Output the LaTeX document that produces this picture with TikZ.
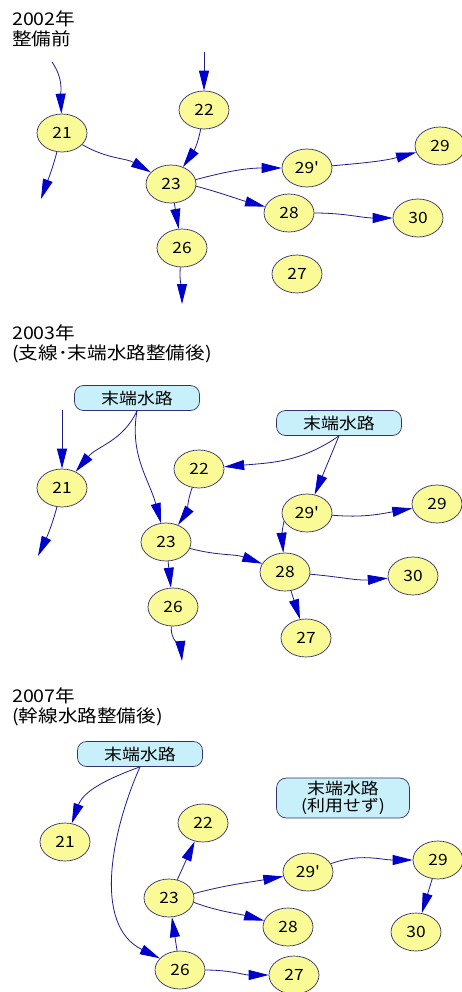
\documentclass[tikz,border=0pt]{standalone}
\usepackage{fontspec}
\setmainfont[FakeStretch=1.12,Ligatures=TeXOff]{Noto Sans CJK JP}
\usetikzlibrary{shapes.geometric,arrows.meta}
\definecolor{nodefill}{RGB}{250,250,150}
\definecolor{nodeline}{RGB}{50,50,110}
\definecolor{boxfill}{RGB}{200,240,250}
\definecolor{linecol}{RGB}{30,30,140}
\definecolor{headcol}{RGB}{0,0,205}
\begin{document}
\begin{tikzpicture}[x=1pt,y=1pt,
 pt/.style={ellipse,draw=nodeline,fill=nodefill,line width=0.7pt,minimum width=50pt,minimum height=38pt,inner sep=0pt,font=\fontsize{15.5}{15.5}\selectfont},
 src/.style={rectangle,rounded corners=9pt,draw=nodeline,fill=boxfill,line width=0.7pt,minimum width=125pt,minimum height=25pt,inner sep=0pt,font=\fontsize{16}{17}\selectfont,align=center},
 flow/.style={draw=linecol,line width=0.8pt,-{Triangle[length=20pt,width=10pt,color=headcol]}},
 ttl/.style={anchor=north west,inner sep=0pt,align=left,font=\fontsize{17.5}{20}\selectfont}]
\useasboundingbox[fill=white] (0,0) rectangle (462,-992);

% ---------- panel 1 ----------
\node[ttl] (t1) at (12,-11) {2002年\\整備前};
\node[pt] (a21) at (62,-133) {21};
\node[pt] (a22) at (204,-110) {22};
\node[pt] (a23) at (171,-184) {23};
\node[pt] (a26) at (182,-248) {26};
\node[pt] (a29p) at (307,-168) {29'};
\node[pt] (a29) at (440,-146) {29};
\node[pt] (a28) at (289,-213) {28};
\node[pt] (a30) at (418,-218) {30};
\node[pt] (a27) at (297,-274) {27};
\coordinate (a21in) at (52,-62);
\coordinate (a22in) at (204,-52);
\coordinate (a21out) at (41,-199);
\coordinate (a26out) at (182,-304);
\draw[flow] (a21in) to[out=-55,in=92] (a21);
\draw[flow] (a22in) -- (a22);
\draw[flow] (a21) to[out=-105,in=70] (a21out);
\draw[flow] (a21) to[out=-30,in=150] (a23);
\draw[flow] (a22) to[out=-100,in=55] (a23);
\draw[flow] (a23) -- (a26);
\draw[flow] (a26) to[out=-95,in=90] (a26out);
\draw[flow] (a23.10) to[out=15,in=180] (a29p);
\draw[flow] (a23.-5) to[out=-15,in=165] (a28);
\draw[flow] (a29p) to[out=5,in=195] (a29);
\draw[flow] (a28) to[out=0,in=180] (a30);

% ---------- panel 2 ----------
\node[ttl] (t2) at (12,-325) {2003年\\(支線･末端水路整備後)};
\node[src] (b1) at (137,-398) {末端水路};
\node[src] (b2) at (339,-423) {末端水路};
\node[pt] (b21) at (62,-488) {21};
\node[pt] (b22) at (199,-469) {22};
\node[pt] (b23) at (166,-542) {23};
\node[pt] (b26) at (173,-607) {26};
\node[pt] (b29p) at (307,-513) {29'};
\node[pt] (b29) at (437,-504) {29};
\node[pt] (b28) at (285,-572) {28};
\node[pt] (b30) at (413,-576) {30};
\node[pt] (b27) at (306,-638) {27};
\coordinate (b21in) at (62,-410);
\coordinate (b21out) at (38,-556);
\coordinate (b26out) at (182,-661);
\draw[flow] (b21in) -- (b21);
\draw[flow] (b1.south) to[out=-115,in=50] (b21);
\draw[flow] (b1.south) to[out=-100,in=105] (b23);
\draw[flow] (b21) to[out=-105,in=65] (b21out);
\draw[flow] (b22) to[out=-110,in=55] (b23);
\draw[flow] (b23) -- (b26);
\draw[flow] (b26) to[out=-95,in=95] (b26out);
\draw[flow] (b2.south) to[out=-145,in=5] (b22);
\draw[flow] (b2.south) -- (b29p);
\draw[flow] (b29p.200) to[out=-105,in=95] (b28);
\draw[flow] (b23) to[out=-15,in=160] (b28);
\draw[flow] (b29p) to[out=-5,in=190] (b29);
\draw[flow] (b28) to[out=-5,in=185] (b30);
\draw[flow] (b28) -- (b27);

% ---------- panel 3 ----------
\node[ttl] (t3) at (12,-688) {2007年\\(幹線水路整備後)};
\node[src] (c1) at (140,-754) {末端水路};
\node[src,minimum width=133pt,minimum height=40pt,rounded corners=10pt] (c2) at (343,-798) {末端水路\\(利用せず)};
\node[pt] (c21) at (65,-842) {21};
\node[pt] (c22) at (203,-823) {22};
\node[pt] (c23) at (169,-898) {23};
\node[pt] (c26) at (180,-970) {26};
\node[pt] (c29p) at (308,-872) {29'};
\node[pt] (c29) at (438,-860) {29};
\node[pt] (c28) at (288,-927) {28};
\node[pt] (c30) at (416,-932) {30};
\node[pt] (c27) at (294,-975) {27};
\draw[flow] (c1.south) to[out=-160,in=70] (c21);
\draw[flow] (c1.south) .. controls (112,-830) and (92,-925) .. (c26.150);
\draw[flow] (c23) -- (c22);
\draw[flow] (c26) -- (c23);
\draw[flow] (c23.10) to[out=15,in=190] (c29p);
\draw[flow] (c23.-10) to[out=-20,in=165] (c28);
\draw[flow] (c29p) to[out=20,in=180] (c29);
\draw[flow] (c29) -- (c30);
\draw[flow] (c26) to[out=0,in=180] (c27);
\end{tikzpicture}
\end{document}
